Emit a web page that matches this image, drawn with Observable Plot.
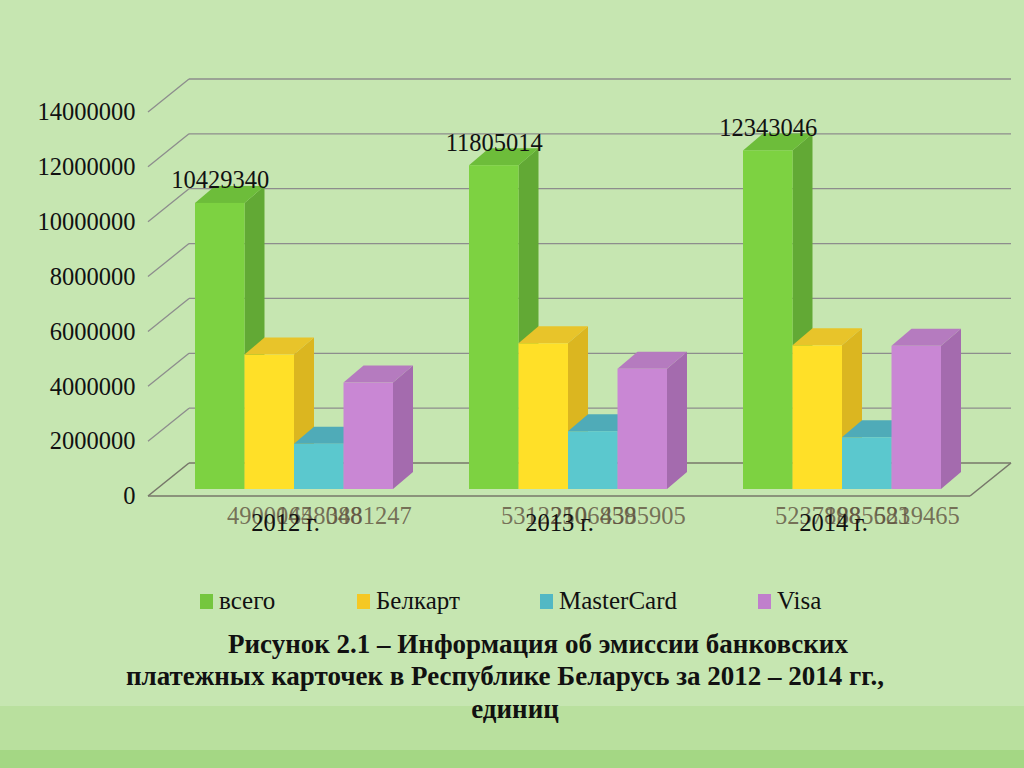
<!DOCTYPE html>
<html>
<head>
<meta charset="utf-8">
<script src="https://cdn.jsdelivr.net/npm/d3@7"></script>
<script src="https://cdn.jsdelivr.net/npm/@observablehq/plot@0.6"></script>
<style>
  html, body { margin: 0; padding: 0; }
  body { width: 1024px; height: 768px; overflow: hidden; background: #c6e6b1; position: relative;
         font-family: 'Liberation Serif', 'Times New Roman', 'DejaVu Serif', serif; }
  #chart { position: absolute; left: 0; top: 0; }
  #chart svg text { font-family: 'Liberation Serif', 'Times New Roman', 'DejaVu Serif', serif; }
  .band1 { position: absolute; left: 0; top: 706px; width: 1024px; height: 44px; background: #b9e09e; }
  .band2 { position: absolute; left: 0; top: 750px; width: 1024px; height: 18px; background: #a4d784; }
  .legend-item { position: absolute; top: 587px; display: flex; align-items: center; font-size: 25px; color: #111; white-space: nowrap; }
  .legend-item .sw { width: 13px; height: 15px; margin-right: 6px; }
  .cap { position: absolute; left: 0; width: 1024px; text-align: center; font-weight: bold; font-size: 27px;
         line-height: 33px; color: #111; white-space: nowrap; }
</style>
</head>
<body>
<div class="band1"></div>
<div class="band2"></div>
<div id="chart"></div>
<div id="legend"></div>
<div class="cap" style="top:628px; transform: translateX(26px);">Рисунок 2.1 – Информация об эмиссии банковских</div>
<div class="cap" style="top:660px; transform: translateX(-7px);">платежных карточек в Республике Беларусь за 2012 – 2014 гг.,</div>
<div class="cap" style="top:693px; transform: translateX(3px);">единиц</div>
<script>
// ---- data ----
const years = ["2012 г.", "2013 г.", "2014 г."];
const series = ["всего", "Белкарт", "MasterCard", "Visa"];
const total = [10429340, 11805014, 12343046];
const belkart = [4900045, 5312250, 5237898];
const mastercard = [1648048, 2106859, 1885683];
const visa = [3881247, 4385905, 5219465];
const yTicks = [0, 2000000, 4000000, 6000000, 8000000, 10000000, 12000000, 14000000];

// ---- colours ----
const frontColors = ["#7dd241", "#ffe028", "#5bc8ce", "#c987d4"];
const sideColors  = ["#62a935", "#dbb620", "#4aa6b1", "#a46bae"];
const topColors   = ["#6dbd3a", "#e8c42a", "#4fabb8", "#b57bbf"];
const legendColors = ["#75c63e", "#f5c824", "#52b8c4", "#c07fcc"];

const valuesBySeries = [total, belkart, mastercard, visa];
const data = [];
years.forEach((y, yi) => series.forEach((s, si) => data.push({year: y, series: s, value: valuesBySeries[si][yi]})));

// ---- 3D geometry (pixel offsets) ----
const FLOOR = {dx: 41, dy: -33};      // depth of the floor / back wall
const BAR_OFF = {dx: 9, dy: -7};      // bar front plane offset from floor front
const BAR_DEPTH = {dx: 20, dy: -17};  // bar depth
const GROUP_FRAC = 198 / 274;         // fraction of a category band used by the bars
const X0 = 148, X1 = 970, W = 1024, H = 545, Y0 = 496, YTOP = 112;
const bandW = (X1 - X0) / years.length;
const barW = bandW * GROUP_FRAC / series.length;
const font = "'Liberation Serif', 'Times New Roman', 'DejaVu Serif', serif";

function wallMark(index, scales) {
  const {x, y} = scales;
  const [x0, x1] = x.range();
  const g = d3.create("svg:g");
  for (const t of yTicks) {
    const yf = y(t);
    const stroke = t === 0 ? "#77776a" : "#8d8d8d";
    const sw = t === 0 ? 1.6 : 1.3;
    g.append("line").attr("x1", x0).attr("y1", yf).attr("x2", x0 + FLOOR.dx).attr("y2", yf + FLOOR.dy)
      .attr("stroke", stroke).attr("stroke-width", sw);
    g.append("line").attr("x1", x0 + FLOOR.dx).attr("y1", yf + FLOOR.dy).attr("x2", x1 + FLOOR.dx).attr("y2", yf + FLOOR.dy)
      .attr("stroke", stroke).attr("stroke-width", sw);
  }
  const yf = y(0);
  g.append("line").attr("x1", x0).attr("y1", yf).attr("x2", x1).attr("y2", yf).attr("stroke", "#77776a").attr("stroke-width", 1.6);
  g.append("line").attr("x1", x1).attr("y1", yf).attr("x2", x1 + FLOOR.dx).attr("y2", yf + FLOOR.dy).attr("stroke", "#77776a").attr("stroke-width", 1.6);
  return g.node();
}

function barsMark(index, scales) {
  const {x, y} = scales;
  const bw = x.bandwidth() * GROUP_FRAC / series.length;
  const pad = (x.bandwidth() - bw * series.length) / 2;
  const g = d3.create("svg:g");
  for (const d of data) {
    const i = series.indexOf(d.series);
    const xl = x(d.year) + pad + BAR_OFF.dx + i * bw, xr = xl + bw;
    const yt = y(d.value) + BAR_OFF.dy, yb = y(0) + BAR_OFF.dy;
    const pts = a => a.map(p => p.join(",")).join(" ");
    g.append("polygon").attr("points", pts([[xr, yt], [xr + BAR_DEPTH.dx, yt + BAR_DEPTH.dy], [xr + BAR_DEPTH.dx, yb + BAR_DEPTH.dy], [xr, yb]]))
      .attr("fill", sideColors[i]);
    g.append("polygon").attr("points", pts([[xl, yt], [xr, yt], [xr + BAR_DEPTH.dx, yt + BAR_DEPTH.dy], [xl + BAR_DEPTH.dx, yt + BAR_DEPTH.dy]]))
      .attr("fill", topColors[i]);
    g.append("rect").attr("x", xl).attr("y", yt).attr("width", xr - xl).attr("height", yb - yt).attr("fill", frontColors[i]);
  }
  return g.node();
}

const barCenterDx = i => BAR_OFF.dx + (i + 0.5 - series.length / 2) * barW;

const bottomLabelMarks = series.slice(1).map((s, k) =>
  Plot.text(data.filter(d => d.series === s), {
    x: "year", y: () => 0, text: d => String(d.value),
    dx: barCenterDx(k + 1), dy: 27, lineAnchor: "bottom",
    fontSize: 24.5, fill: "#5f513f", fillOpacity: 0.8, fontFamily: font
  })
);

const plot = Plot.plot({
  width: W, height: H,
  marginLeft: X0, marginRight: W - X1, marginTop: YTOP, marginBottom: H - Y0,
  style: {background: "transparent", fontFamily: font, overflow: "visible", color: "#111"},
  x: {type: "band", domain: years, padding: 0, label: null},
  y: {domain: [0, 14000000], label: null},
  marks: [
    wallMark,
    barsMark,
    Plot.text(data.filter(d => d.series === "всего"), {
      x: "year", y: "value", text: d => String(d.value),
      dx: barCenterDx(0), dy: BAR_OFF.dy - 15, lineAnchor: "bottom",
      fontSize: 24.5, fill: "#111", fontFamily: font
    }),
    ...bottomLabelMarks,
    Plot.axisY({ticks: yTicks, tickSize: 0, tickPadding: 13, tickFormat: d3.format("d"), fontSize: 24.5, label: null, fill: "#111"}),
    Plot.axisX({tickSize: 0, tickPadding: 17, fontSize: 24.5, label: null, fill: "#111"})
  ]
});
document.getElementById("chart").appendChild(plot);

// ---- legend ----
const legendLeft = [200, 357, 540, 758];
const legend = document.getElementById("legend");
series.forEach((s, i) => {
  const item = document.createElement("div");
  item.className = "legend-item";
  item.style.left = legendLeft[i] + "px";
  const sw = document.createElement("span");
  sw.className = "sw";
  sw.style.background = legendColors[i];
  const t = document.createElement("span");
  t.textContent = s;
  item.appendChild(sw); item.appendChild(t);
  legend.appendChild(item);
});
</script>
</body>
</html>
